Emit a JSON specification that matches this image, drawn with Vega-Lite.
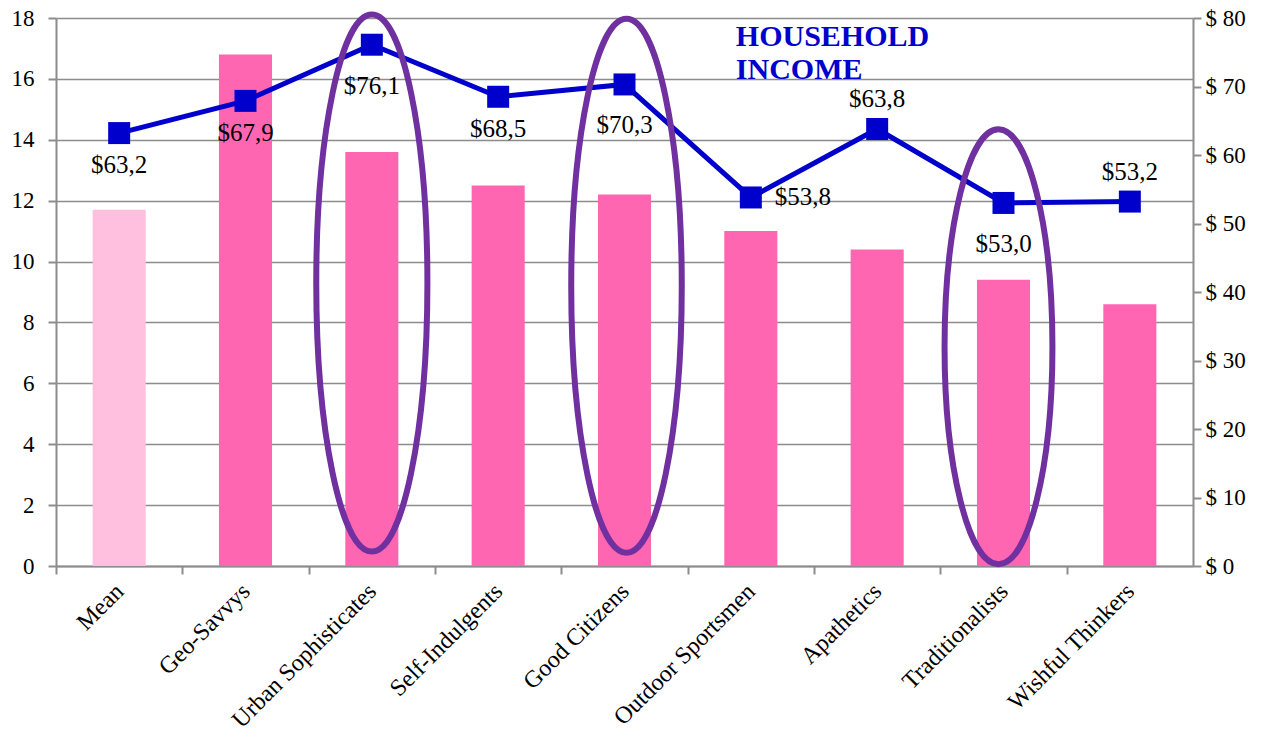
{
  "$schema": "https://vega.github.io/schema/vega-lite/v6.json",
  "width": 1137,
  "height": 548,
  "autosize": {"type": "none"},
  "padding": {"left": 56, "top": 18, "right": 74, "bottom": 173},
  "background": "white",
  "config": {
    "view": {"stroke": null},
    "font": "Liberation Serif",
    "text": {"font": "Liberation Serif"},
    "axis": {
      "labelFont": "Liberation Serif",
      "labelFontSize": 23,
      "labelColor": "black",
      "domainColor": "#8c8c8c",
      "tickColor": "#8c8c8c",
      "gridColor": "#8c8c8c",
      "domainWidth": 2,
      "tickWidth": 2,
      "gridWidth": 1.5,
      "tickSize": 8,
      "title": null
    }
  },
  "data": {
    "values": [
      {"segment": "Mean", "share": 11.7, "income": 63.2},
      {"segment": "Geo-Savvys", "share": 16.8, "income": 67.9},
      {"segment": "Urban Sophisticates", "share": 13.6, "income": 76.1},
      {"segment": "Self-Indulgents", "share": 12.5, "income": 68.5},
      {"segment": "Good Citizens", "share": 12.2, "income": 70.3},
      {"segment": "Outdoor Sportsmen", "share": 11.0, "income": 53.8},
      {"segment": "Apathetics", "share": 10.4, "income": 63.8},
      {"segment": "Traditionalists", "share": 9.4, "income": 53.0},
      {"segment": "Wishful Thinkers", "share": 8.6, "income": 53.2}
    ]
  },
  "transform": [
    {"calculate": "'$' + replace(format(datum.income, '.1f'), '.', ',')", "as": "label"}
  ],
  "layer": [
    {
      "layer": [
        {
          "mark": {"type": "bar"},
          "encoding": {
            "x": {
              "field": "segment", "type": "nominal", "sort": null,
              "scale": {"paddingInner": 0.58, "paddingOuter": 0.29},
              "axis": {"labelAngle": -45, "labelAlign": "right", "labelBaseline": "top", "tickOffset": -63.17, "labelOffset": 55, "grid": false, "labelPadding": 5, "labelFontSize": 24, "labelLimit": 500}
            },
            "y": {
              "field": "share", "type": "quantitative",
              "scale": {"domain": [0, 18], "nice": false},
              "axis": {"orient": "left", "values": [0, 2, 4, 6, 8, 10, 12, 14, 16, 18], "grid": true, "labelPadding": 14}
            },
            "color": {
              "condition": {"test": "datum.segment === 'Mean'", "value": "#FFC0E0"},
              "value": "#FF66B2"
            }
          }
        }
      ]
    },
    {
      "layer": [
        {
          "mark": {"type": "line", "color": "#0000CC", "strokeWidth": 5},
          "encoding": {
            "x": {"field": "segment", "type": "nominal", "sort": null},
            "y": {
              "field": "income", "type": "quantitative",
              "scale": {"domain": [0, 80], "nice": false},
              "axis": {"orient": "right", "values": [0, 10, 20, 30, 40, 50, 60, 70, 80], "grid": false, "labelExpr": "'$ ' + datum.value", "labelPadding": 4}
            }
          }
        },
        {
          "mark": {"type": "point", "shape": "square", "filled": true, "color": "#0000CC", "opacity": 1, "size": 484},
          "encoding": {
            "x": {"field": "segment", "type": "nominal", "sort": null},
            "y": {"field": "income", "type": "quantitative"}
          }
        },
        {
          "transform": [{"filter": {"field": "segment", "oneOf": ["Mean", "Geo-Savvys", "Self-Indulgents"]}}],
          "mark": {"type": "text", "font": "Liberation Serif", "fontSize": 25, "baseline": "middle", "dy": 32, "color": "black"},
          "encoding": {
            "x": {"field": "segment", "type": "nominal", "sort": null},
            "y": {"field": "income", "type": "quantitative"},
            "text": {"field": "label"}
          }
        },
        {
          "transform": [{"filter": {"field": "segment", "oneOf": ["Urban Sophisticates", "Good Citizens", "Traditionalists"]}}],
          "mark": {"type": "text", "font": "Liberation Serif", "fontSize": 25, "baseline": "middle", "dy": 41, "color": "black"},
          "encoding": {
            "x": {"field": "segment", "type": "nominal", "sort": null},
            "y": {"field": "income", "type": "quantitative"},
            "text": {"field": "label"}
          }
        },
        {
          "transform": [{"filter": {"field": "segment", "oneOf": ["Apathetics", "Wishful Thinkers"]}}],
          "mark": {"type": "text", "font": "Liberation Serif", "fontSize": 25, "baseline": "middle", "dy": -30, "color": "black"},
          "encoding": {
            "x": {"field": "segment", "type": "nominal", "sort": null},
            "y": {"field": "income", "type": "quantitative"},
            "text": {"field": "label"}
          }
        },
        {
          "transform": [{"filter": {"field": "segment", "oneOf": ["Outdoor Sportsmen"]}}],
          "mark": {"type": "text", "font": "Liberation Serif", "fontSize": 25, "baseline": "middle", "align": "left", "dx": 24, "color": "black"},
          "encoding": {
            "x": {"field": "segment", "type": "nominal", "sort": null},
            "y": {"field": "income", "type": "quantitative"},
            "text": {"field": "label"}
          }
        },
        {
          "transform": [{"filter": {"field": "segment", "oneOf": ["Urban Sophisticates"]}}],
          "mark": {"type": "point", "filled": false, "stroke": "#7030A0", "strokeWidth": 6, "opacity": 1, "size": 288369,
            "shape": "M0,-1C0.1143,-1,0.207,-0.5523,0.207,0C0.207,0.5523,0.1143,1,0,1C-0.1143,1,-0.207,0.5523,-0.207,0C-0.207,-0.5523,-0.1143,-1,0,-1Z"},
          "encoding": {
            "x": {"field": "segment", "type": "nominal", "sort": null},
            "y": {"datum": 41.3, "type": "quantitative"}
          }
        },
        {
          "transform": [{"filter": {"field": "segment", "oneOf": ["Good Citizens"]}}],
          "mark": {"type": "point", "filled": false, "stroke": "#7030A0", "strokeWidth": 6, "opacity": 1, "size": 285156, "xOffset": 2,
            "shape": "M0,-1C0.1143,-1,0.207,-0.5523,0.207,0C0.207,0.5523,0.1143,1,0,1C-0.1143,1,-0.207,0.5523,-0.207,0C-0.207,-0.5523,-0.1143,-1,0,-1Z"},
          "encoding": {
            "x": {"field": "segment", "type": "nominal", "sort": null},
            "y": {"datum": 40.9, "type": "quantitative"}
          }
        },
        {
          "transform": [{"filter": {"field": "segment", "oneOf": ["Traditionalists"]}}],
          "mark": {"type": "point", "filled": false, "stroke": "#7030A0", "strokeWidth": 6, "opacity": 1, "size": 189225, "xOffset": -5,
            "shape": "M0,-1C0.137,-1,0.248,-0.5523,0.248,0C0.248,0.5523,0.137,1,0,1C-0.137,1,-0.248,0.5523,-0.248,0C-0.248,-0.5523,-0.137,-1,0,-1Z"},
          "encoding": {
            "x": {"field": "segment", "type": "nominal", "sort": null},
            "y": {"datum": 32.0, "type": "quantitative"}
          }
        },
        {
          "transform": [{"filter": {"field": "segment", "oneOf": ["Outdoor Sportsmen"]}}],
          "mark": {"type": "text", "text": ["HOUSEHOLD", "INCOME"], "font": "Liberation Serif", "fontSize": 30, "fontWeight": "bold", "color": "#0000CC", "align": "left", "baseline": "alphabetic", "dx": -15, "lineHeight": 33},
          "encoding": {
            "x": {"field": "segment", "type": "nominal", "sort": null},
            "y": {"datum": 75.9, "type": "quantitative"}
          }
        }
      ]
    }
  ],
  "resolve": {"scale": {"y": "independent"}}
}
